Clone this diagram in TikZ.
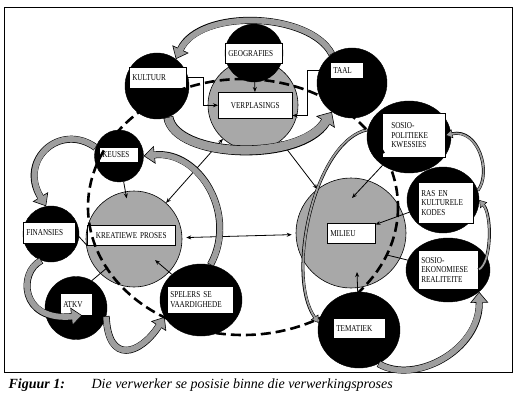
\documentclass[tikz,border=0pt]{standalone}
\usepackage{fontspec}
\usepackage{tikz}
\usetikzlibrary{shapes.geometric, arrows.meta, positioning}
\newfontfamily\boxfont[FakeStretch=0.8]{Liberation Serif}
\newfontfamily\capfont{Liberation Serif}
\definecolor{ringgray}{HTML}{A8A8A8}
\definecolor{arrowgray}{HTML}{9E9E9E}

\begin{document}
\begin{tikzpicture}[
  x=1pt, y=-1pt,
  ring/.style={circle, draw, fill=ringgray, line width=0.6pt, inner sep=0pt},
  blob/.style={ellipse, draw, fill=black, inner sep=0pt},
  lbl/.style={draw, fill=white, line width=0.5pt, anchor=north west, align=left,
    inner xsep=3pt, inner ysep=1pt, font=\boxfont\fontsize{9}{9.5}\selectfont},
  arrow/.style={-{Stealth[length=5pt,width=4pt]}, line width=0.8pt},
  twoway/.style={{Stealth[length=5pt,width=4pt]}-{Stealth[length=5pt,width=4pt]}, line width=0.8pt},
  link/.style={line width=0.8pt},
  widearrow/.style={preaction={draw=black, line width=10pt, shorten >=0pt, shorten <=0pt,
      -{Triangle[length=12pt,width=22pt,line width=0.6pt,fill=arrowgray]}},
    draw=arrowgray, line width=8.6pt, shorten >=10.5pt, shorten <=0.6pt},
  midarrow/.style={preaction={draw=black, line width=7pt, shorten >=0pt, shorten <=0pt,
      -{Triangle[length=11pt,width=18pt,line width=0.6pt,fill=arrowgray]}},
    draw=arrowgray, line width=5.8pt, shorten >=9.5pt, shorten <=0.6pt},
  slimarrow/.style={preaction={draw=black, line width=3pt, shorten >=0pt, shorten <=0pt,
      -{Triangle[length=7pt,width=9pt,line width=0.5pt,fill=arrowgray]}},
    draw=arrowgray, line width=1.8pt, shorten >=6pt, shorten <=0.5pt},
  loopdash/.style={draw, line width=2.6pt, dash pattern=on 10pt off 5pt},
]
\useasboundingbox (0,0) rectangle (518,406);
\draw[line width=0.9pt] (4,7) rectangle (512,372);

% Grey circles -- the three processes
\node[ring, minimum size=90pt] (verplC) at (253,105) {};
\node[ring, minimum size=96pt] (kreatC) at (134,239) {};
\node[ring, minimum size=110pt] (milieuC) at (351,233) {};

% Black circles round them
\node[blob, minimum width=58pt, minimum height=58pt] (geoC) at (254,53) {};
\node[blob, minimum width=64pt, minimum height=66pt] (kultuurC) at (157,86) {};
\node[blob, minimum width=70pt, minimum height=70pt] (taalC) at (352,83) {};
\node[blob, minimum width=84pt, minimum height=72pt] (sosiopolC) at (409,137) {};
\node[blob, minimum width=72pt, minimum height=66pt] (rasC) at (443,200) {};
\node[blob, minimum width=84pt, minimum height=64pt] (sosioekC) at (448,270) {};
\node[blob, minimum width=82pt, minimum height=76pt] (tematiekC) at (359,330) {};
\node[blob, minimum width=49pt, minimum height=52pt] (keusesC) at (119,156) {};
\node[blob, minimum width=56pt, minimum height=56pt] (finansiesC) at (51,234) {};
\node[blob, minimum width=62pt, minimum height=63pt] (atkvC) at (76,308) {};
\node[blob, minimum width=82pt, minimum height=72pt] (spelersC) at (201,300) {};

% Tips that end inside the grey circles
\coordinate (kreatIn) at (155,260);
\coordinate (kreatSW) at (108,267);
\coordinate (milieuNE) at (352,198);
\coordinate (milieuSE) at (387,255);
\coordinate (milieuS) at (357,272);

% Labels
\node[lbl, text width=51pt, minimum height=20pt] (geografies) at (225,43) {GEOGRAFIES};
\node[lbl, text width=51pt, minimum height=21pt] (kultuur) at (129,67) {KULTUUR};
\node[lbl, text width=27pt, minimum height=16pt] (taal) at (330,62) {TAAL};
\node[lbl, text width=68pt, minimum height=26pt, align=center] (verplasings) at (218,92) {VERPLASINGS};
\node[lbl, text width=33pt, minimum height=15pt] (keuses) at (99,147) {KEUSES};
\node[lbl, text width=82pt, minimum height=20pt, align=center] (kreatiewe) at (87,225) {KREATIEWE PROSES};
\node[lbl, text width=46pt, minimum height=21pt] (finansies) at (23,222) {FINANSIES};
\node[lbl, text width=26pt, minimum height=22pt] (atkv) at (60,293) {ATKV};
\node[lbl, text width=60pt, minimum height=27pt] (spelers) at (167,286) {SPELERS SE\\VAARDIGHEDE};
\node[lbl, text width=42pt, minimum height=20pt] (milieu) at (327,223) {MILIEU};
\node[lbl, text width=45pt, inner xsep=9pt, minimum height=44pt] (sosiopol) at (382,113) {SOSIO-\\POLITIEKE\\KWESSIES};
\node[lbl, text width=49pt, minimum height=41pt] (ras) at (418,182) {RAS EN\\KULTURELE\\KODES};
\node[lbl, text width=54pt, minimum height=39pt] (sosioek) at (418,250) {SOSIO-\\EKONOMIESE\\REALITEITE};
\node[lbl, text width=46pt, minimum height=20pt] (tematiek) at (333,318) {TEMATIEK};

% Thin arrows
\draw[arrow] (geoC) -- (verplasings);
\draw[arrow] (kultuur.east) -- ++(17,0) |- (verplasings.west);
\draw[arrow] (taal.west) -- ++(-23,0) |- ([yshift=3pt]verplasings.south east);
\draw[arrow, shorten >=-7pt] (keusesC) -- (kreatC);
\draw[twoway] (kreatC) -- (verplC);
\draw[twoway] (verplC) -- (milieuC);
\draw[twoway, shorten <=4pt, shorten >=4pt] (kreatC) -- (milieuC);
\draw[link] (finansies.east) -- (kreatiewe.south west);
\draw[link] (atkvC.60) -- (kreatSW);
\draw[arrow] (spelersC.north west) -- (kreatIn);
\draw[arrow] (sosiopolC) -- (milieuNE);
\draw[arrow] (rasC) -- (milieu);
\draw[link] (sosioekC) -- (milieuSE);
\draw[arrow] (tematiekC) -- (milieuS);

% Grey block arrows -- top
\draw[midarrow] (taalC.125) .. controls (310,12) and (200,8) .. (kultuurC.55);
\draw[widearrow] (kultuurC.290) .. controls (175,158) and (300,163) .. (taalC.235);

% Grey block arrows -- left cycle
\draw[midarrow] (keusesC.160) .. controls (60,122) and (18,160) .. (finansiesC.100);
\draw[midarrow] (finansiesC.250) .. controls (18,272) and (20,322) .. ([xshift=6pt]atkv.south);
\draw[midarrow] (atkvC.345) .. controls (108,365) and (140,355) .. (spelersC.205);
\draw[midarrow] (spelersC.75) .. controls (238,215) and (200,150) .. (keusesC.east);

% Grey block arrows -- right cycle
\draw[slimarrow] (sosiopolC.170) .. controls (315,140) and (285,275) .. (tematiekC.170);
\draw[slimarrow] (rasC.15) .. controls (492,172) and (478,128) .. (sosiopol.east);
\draw[slimarrow] (sosioek.east) .. controls (492,262) and (492,215) .. (rasC.east);
\draw[midarrow] (tematiekC.300) .. controls (415,385) and (480,350) .. (sosioekC.325);

% Dashed loop round the whole
\draw[loopdash] (243,207) ellipse [x radius=155, y radius=128];

% Caption
\node[anchor=base west, font=\capfont\itshape\bfseries\fontsize{14}{16}\selectfont] (figlabel) at (5,388) {Figuur 1:};
\node[anchor=base west, font=\capfont\itshape\fontsize{14}{16}\selectfont] (figtext) at (88,388) {Die verwerker se posisie binne die verwerkingsproses};
\end{tikzpicture}
\end{document}
